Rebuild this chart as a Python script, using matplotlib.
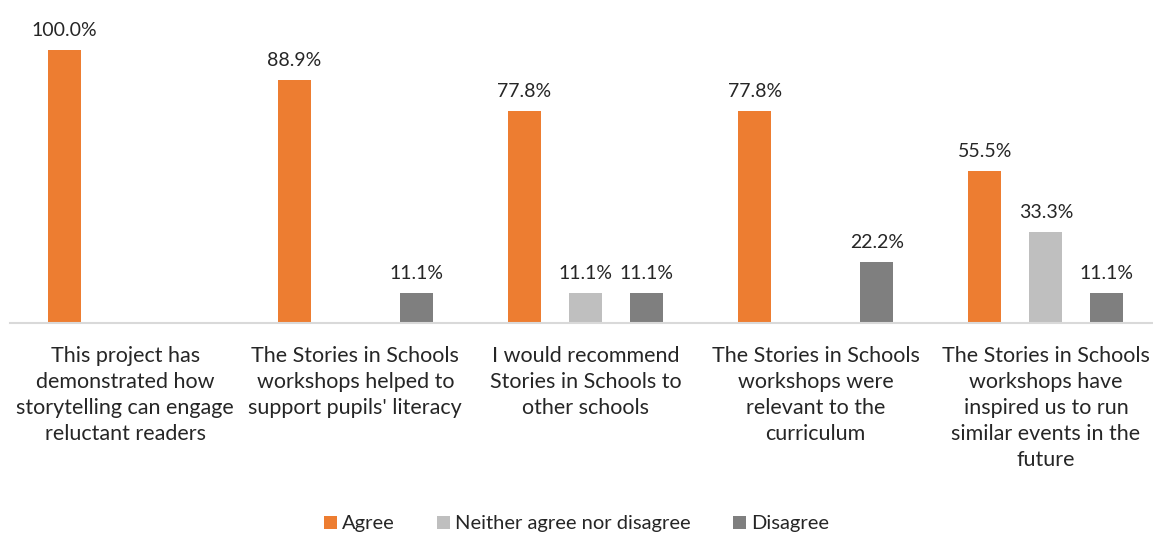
import matplotlib
matplotlib.use("Agg")
import matplotlib.pyplot as plt
import numpy as np

plt.rcParams["font.family"] = ["Lato", "DejaVu Sans"]

CATEGORIES = [
    "This project has\ndemonstrated how\nstorytelling can engage\nreluctant readers",
    "The Stories in Schools\nworkshops helped to\nsupport pupils' literacy",
    "I would recommend\nStories in Schools to\nother schools",
    "The Stories in Schools\nworkshops were\nrelevant to the\ncurriculum",
    "The Stories in Schools\nworkshops have\ninspired us to run\nsimilar events in the\nfuture",
]
SERIES = ["Agree", "Neither agree nor disagree", "Disagree"]
AGREE = [100.0, 88.9, 77.8, 77.8, 55.5]
NEITHER = [0.0, 0.0, 11.1, 0.0, 33.3]
DISAGREE = [0.0, 11.1, 11.1, 22.2, 11.1]

COLORS = {
    "Agree": "#ED7D31",
    "Neither agree nor disagree": "#BFBFBF",
    "Disagree": "#7F7F7F",
}

W, H = 1153, 535
fig = plt.figure(figsize=(W / 100, H / 100), dpi=100)
ax = fig.add_axes([10 / W, (H - 323) / H, 1151 / W, 273 / H])

x = np.arange(len(CATEGORIES))
width = 0.143
offsets = [-0.265, 0.0, 0.265]
for name, vals, off in zip(SERIES, [AGREE, NEITHER, DISAGREE], offsets):
    bars = ax.bar(x + off, vals, width, color=COLORS[name], label=name, zorder=2)
    for bar, v in zip(bars, vals):
        if v <= 0:
            continue
        ax.annotate(f"{v:.1f}%", (bar.get_x() + bar.get_width() / 2, v),
                    xytext=(0, 11), textcoords="offset pixels",
                    ha="center", va="bottom", fontsize=14, color="#262626")

for i, lab in enumerate(CATEGORIES):
    ax.annotate(lab, xy=(i, 0), xycoords=("data", "axes fraction"),
                xytext=(0, -23), textcoords="offset pixels",
                ha="center", va="top", fontsize=15.5, color="#262626",
                linespacing=1.38, multialignment="center")

ax.set_xlim(-0.5, len(CATEGORIES) - 0.5)
ax.set_ylim(0, 100)
ax.set_xticks([])
ax.set_yticks([])
for side in ["top", "right", "left"]:
    ax.spines[side].set_visible(False)
ax.spines["bottom"].set_color("#D9D9D9")
ax.spines["bottom"].set_linewidth(1.5)

fig.legend(loc="center", bbox_to_anchor=(0.5, (H - 524) / H), ncol=3,
           frameon=False, fontsize=14.5, handlelength=0.65, handleheight=0.65,
           handletextpad=0.25, columnspacing=2.1, labelcolor="#262626")

fig.savefig("out.png", dpi=100)
